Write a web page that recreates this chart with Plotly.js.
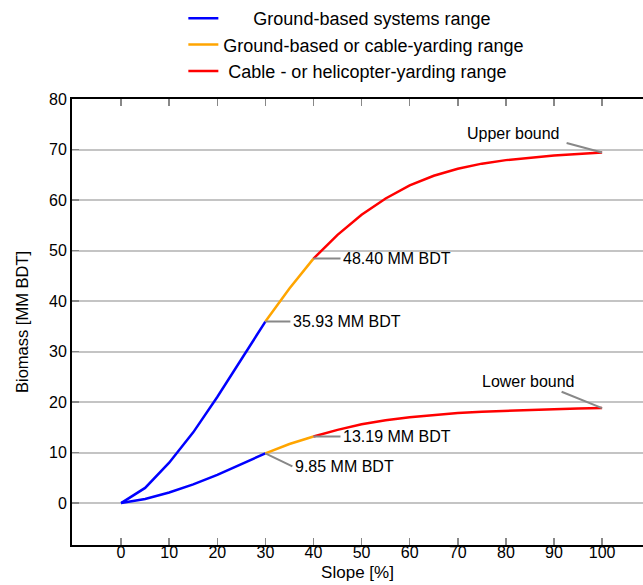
<!DOCTYPE html>
<html><head><meta charset="utf-8">
<script src="https://cdn.plot.ly/plotly-3.0.1.min.js"></script>
<style>body{margin:0;padding:0;}#chart{width:643px;height:585px;}</style>
</head><body><div id="chart"></div>
<script>
const slope = [0,5,10,15,20,25,30,35,40,45,50,55,60,65,70,75,80,85,90,95,100];
const upperBound = [0,3,8,14,21,28.5,35.93,42.5,48.40,53.1,57.1,60.3,62.9,64.8,66.2,67.2,67.9,68.4,68.8,69.1,69.4];
const lowerBound = [0,0.8,2.1,3.7,5.6,7.7,9.85,11.7,13.19,14.5,15.6,16.4,17.0,17.45,17.85,18.1,18.3,18.45,18.6,18.7,18.8];
const seriesNames = ['Ground-based systems range','Ground-based or cable-yarding range','Cable - or helicopter-yarding range'];
const legendPad = ['\u00a0\u00a0\u00a0\u00a0\u00a0\u00a0', '', '\u00a0'];
const seriesColors = ['#0000ff','#ffa500','#ff0000'];
const segBounds = [[0,30],[30,40],[40,100]];
const markLabels = ['35.93 MM BDT','48.40 MM BDT','9.85 MM BDT','13.19 MM BDT'];

const traces = [];
segBounds.forEach((b,i)=>{
  [upperBound, lowerBound].forEach((curve,k)=>{
    const xs=[], ys=[];
    slope.forEach((s,j)=>{ if(s>=b[0] && s<=b[1]){ xs.push(s); ys.push(curve[j]); } });
    traces.push({x:xs,y:ys,mode:'lines',type:'scatter',
      name: legendPad[i]+seriesNames[i], legendgroup:'g'+i, showlegend:k===0,
      line:{color:seriesColors[i],width:2.5}, hoverinfo:'skip'});
  });
});

const grey='#888';
const annFont={family:'Liberation Sans, Arial, sans-serif',size:16,color:'#000'};
function mk(x,y,text,ax,ay){
  return {x:x,y:y,xref:'x',yref:'y',text:text,showarrow:true,arrowhead:0,arrowwidth:2,arrowcolor:grey,
    ax:ax,ay:ay,xanchor:'left',yanchor:'middle',font:annFont,borderpad:2};
}
const i30 = slope.indexOf(30), i40 = slope.indexOf(40), i100 = slope.indexOf(100);
const annotations = [
  mk(30, upperBound[i30], markLabels[0], 25, 0),
  mk(40, upperBound[i40], markLabels[1], 27, 0),
  mk(30, lowerBound[i30], markLabels[2], 27, 13),
  mk(40, lowerBound[i40], markLabels[3], 27, 0),
  {x:100,y:upperBound[i100],text:'',showarrow:true,arrowhead:0,arrowwidth:2,arrowcolor:grey,ax:-37,ay:-10},
  {x:100,y:upperBound[i100],text:'Upper bound',showarrow:false,xanchor:'right',yanchor:'middle',xshift:-40,yshift:19,font:annFont},
  {x:100,y:lowerBound[i100],text:'',showarrow:true,arrowhead:0,arrowwidth:2,arrowcolor:grey,ax:-42,ay:-17},
  {x:100,y:lowerBound[i100],text:'Lower bound',showarrow:false,xanchor:'right',yanchor:'middle',xshift:-25,yshift:27,font:annFont}
];

const layout = {
  width:643,height:585,
  margin:{l:72,r:0,t:98,b:40},
  paper_bgcolor:'#fff',plot_bgcolor:'#fff',
  font:{family:'Liberation Sans, Arial, sans-serif',size:16,color:'#000'},
  showlegend:true,
  legend:{x:0.195,y:1.222,xanchor:'left',yanchor:'top',font:{size:18,color:'#000'},bgcolor:'rgba(0,0,0,0)',tracegroupgap:0,itemwidth:30},
  xaxis:{range:[-10.2,108.5],tickvals:[0,10,20,30,40,50,60,70,80,90,100],ticks:'inside',ticklen:7,tickwidth:1.5,tickcolor:grey,
    showgrid:false,zeroline:false,showline:true,linecolor:'#000',linewidth:2,mirror:'ticks',ticklabelstandoff:-8,
    title:{text:'Slope [%]',font:{size:17},standoff:6},tickfont:{size:16}},
  yaxis:{range:[-8.3,80],tickvals:[0,10,20,30,40,50,60,70,80],ticks:'inside',ticklen:7,tickwidth:1.5,tickcolor:grey,
    showgrid:true,gridcolor:'#c4c4c4',gridwidth:2,zeroline:false,showline:true,linecolor:'#000',linewidth:2,mirror:true,
    title:{text:'Biomass [MM BDT]',font:{size:16.5},standoff:16},tickfont:{size:16}},
  annotations:annotations
};
Plotly.newPlot('chart',traces,layout,{displayModeBar:false,staticPlot:true});
</script></body></html>
